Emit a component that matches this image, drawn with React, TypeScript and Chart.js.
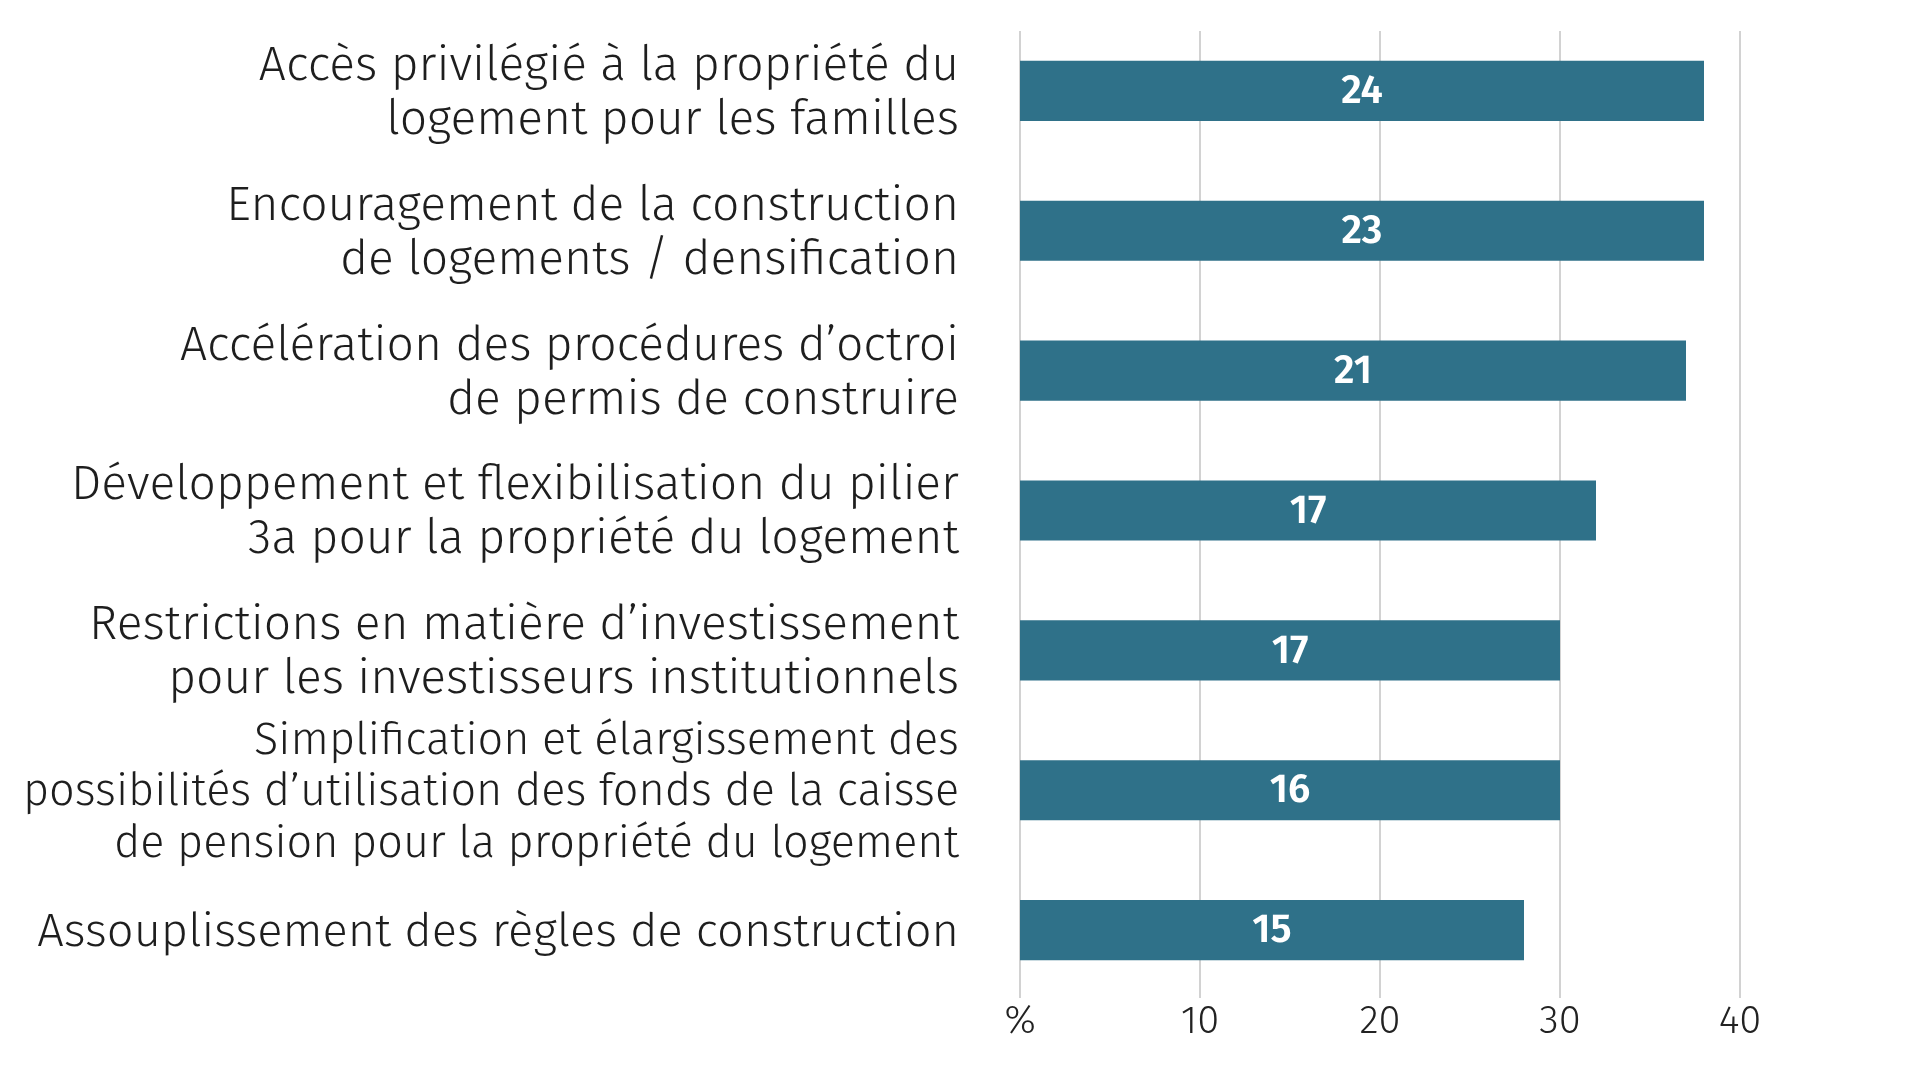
import React, { useEffect, useRef } from "react";
import { Chart, registerables } from "chart.js";

Chart.register(...registerables);

const categories: string[][] = [
  ["Accès privilégié à la propriété du", "logement pour les familles"],
  ["Encouragement de la construction", "de logements / densification"],
  ["Accélération des procédures d’octroi", "de permis de construire"],
  ["Développement et flexibilisation du pilier", "3a pour la propriété du logement"],
  ["Restrictions en matière d’investissement", "pour les investisseurs institutionnels"],
  [
    "Simplification et élargissement des",
    "possibilités d’utilisation des fonds de la caisse",
    "de pension pour la propriété du logement",
  ],
  ["Assouplissement des règles de construction"],
];

const barValues: number[] = [38, 38, 37, 32, 30, 30, 28];
const labelValues: number[] = [24, 23, 21, 17, 17, 16, 15];
const xTicks: number[] = [0, 10, 20, 30, 40];
const xTickLabels: string[] = ["%", "10", "20", "30", "40"];

const FONT = "'Fira Sans', Roboto, sans-serif";

const gridPlugin = {
  id: "customGrid",
  beforeDatasetsDraw(chart: any) {
    const { ctx, chartArea, scales } = chart;
    const x = scales.x;
    ctx.save();
    ctx.strokeStyle = "#d2d2d2";
    ctx.lineWidth = 2;
    xTicks.forEach((v) => {
      const px = Math.round(x.getPixelForValue(v));
      ctx.beginPath();
      ctx.moveTo(px, chartArea.top + 10);
      ctx.lineTo(px, chartArea.bottom - 2);
      ctx.stroke();
    });
    ctx.restore();
  },
};

const labelPlugin = {
  id: "barLabels",
  afterDatasetsDraw(chart: any) {
    const { ctx } = chart;
    const meta = chart.getDatasetMeta(0);
    ctx.save();
    ctx.fillStyle = "#ffffff";
    ctx.font = `600 40px ${FONT}`;
    ctx.textAlign = "center";
    ctx.textBaseline = "middle";
    meta.data.forEach((bar: any, i: number) => {
      const cx = (bar.x + bar.base) / 2;
      ctx.fillText(String(labelValues[i]), cx, bar.y + 1);
    });
    ctx.restore();
  },
};

export default function App() {
  const ref = useRef<HTMLCanvasElement | null>(null);
  useEffect(() => {
    if (!ref.current) return;
    const chart = new Chart(ref.current, {
      type: "bar",
      data: {
        labels: categories,
        datasets: [
          {
            data: barValues,
            backgroundColor: "#2f7189",
            borderWidth: 0,
            barPercentage: 0.43,
            categoryPercentage: 1,
          },
        ],
      },
      options: {
        indexAxis: "y",
        animation: false,
        responsive: false,
        devicePixelRatio: 1,
        layout: { padding: { top: 21, right: 180, bottom: 0, left: 0 } },
        plugins: { legend: { display: false }, tooltip: { enabled: false } },
        scales: {
          x: {
            min: 0,
            max: 40,
            afterFit: (s: any) => {
              s.height = 80;
              s.paddingLeft = 0;
              s.paddingRight = 0;
            },
            afterBuildTicks: (s: any) => {
              s.ticks = xTicks.map((v) => ({ value: v }));
            },
            grid: { display: false, drawTicks: false },
            border: { display: false },
            ticks: {
              padding: -2,
              color: "#222222",
              font: { family: FONT, size: 40, weight: "300" },
              callback: (v: any) => xTickLabels[xTicks.indexOf(Number(v))] ?? String(v),
            },
          },
          y: {
            afterFit: (s: any) => {
              s.width = 1020;
              s.paddingTop = 0;
              s.paddingBottom = 0;
            },
            grid: { display: false, drawTicks: false },
            border: { display: false },
            ticks: {
              padding: 61,
              labelOffset: 2.5,
              color: "#1e1e1e",
              autoSkip: false,
              font: (c: any) => ({
                family: FONT,
                size: c.index === 5 ? 45 : c.index === 6 ? 47 : 48,
                weight: "300",
                lineHeight: c.index === 5 ? 1.142 : 1.125,
              }),
            },
          },
        },
      },
      plugins: [gridPlugin, labelPlugin],
    });
    return () => chart.destroy();
  }, []);
  return (
    <div style={{ position: "absolute", left: 0, top: 0, width: 1920, height: 1080, background: "#fff" }}>
      <canvas ref={ref} width={1920} height={1080} />
    </div>
  );
}
